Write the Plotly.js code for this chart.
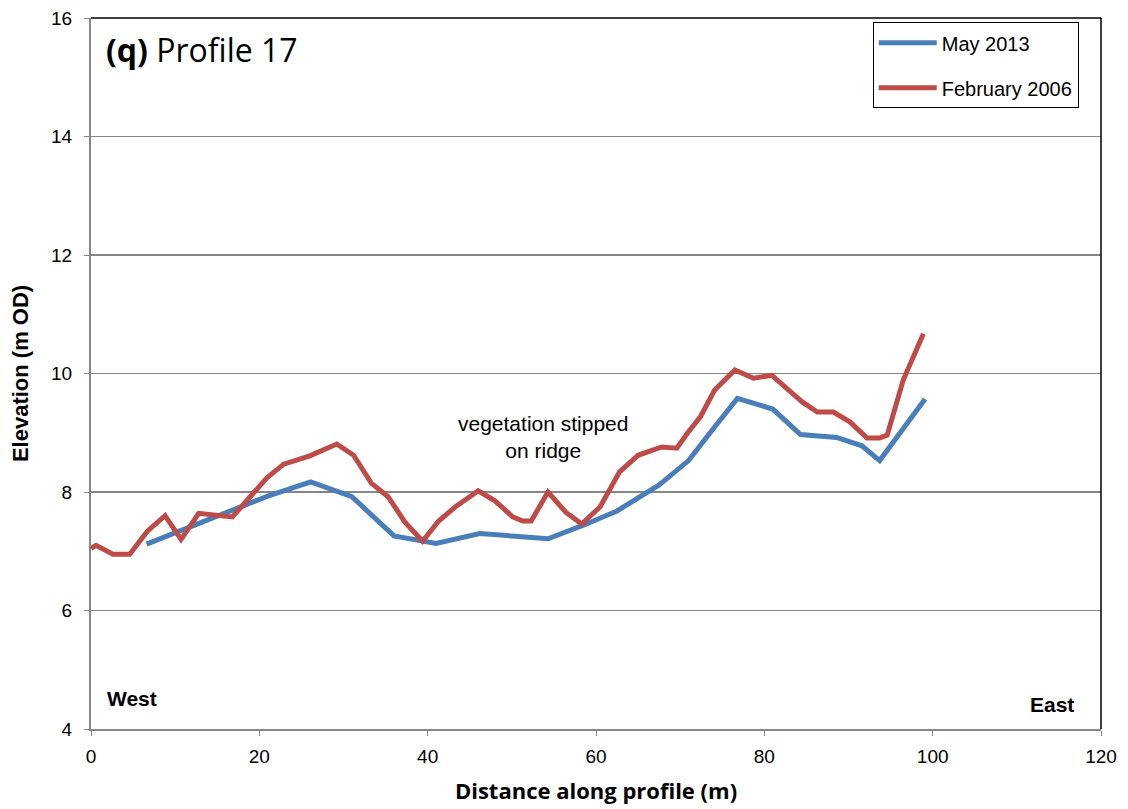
<!DOCTYPE html>
<html>
<head>
<meta charset="utf-8">
<script src="https://cdn.plot.ly/plotly-3.0.1.min.js"></script>
<style>html,body{margin:0;padding:0;background:#fff;}#chart{width:1128px;height:809px;}</style>
</head>
<body>
<div id="chart"></div>
<script>
// Distance along profile (m) and elevation (m OD)
const may2013X = [6.6, 12.5, 18, 21, 26.1, 31, 36, 41, 46.2, 54.3, 58.5, 62.5, 67.5, 71, 74, 76.8, 81, 84.3, 88.6, 91.6, 93.7, 99.1];
const may2013Y = [7.12, 7.45, 7.78, 7.93, 8.17, 7.92, 7.26, 7.13, 7.30, 7.21, 7.44, 7.68, 8.12, 8.53, 9.08, 9.58, 9.40, 8.97, 8.92, 8.78, 8.53, 9.57];

const feb2006X = [0, 0.6, 2.6, 4.6, 6.7, 8.8, 10.7, 12.8, 16.8, 18.9, 20.9, 22.9, 26.0, 29.2, 31.2, 33.3, 35.3, 37.3, 39.4, 41.3, 43.3, 45.3, 46.0, 48.0, 50.1, 51.3, 52.3, 54.3, 56.4, 58.3, 60.5, 62.8, 65.0, 67.8, 69.6, 70.9, 72.4, 74.1, 76.5, 78.7, 80.9, 83.3, 84.5, 86.3, 88.2, 90.2, 92.2, 93.7, 94.6, 96.5, 98.9];
const feb2006Y = [7.05, 7.10, 6.95, 6.95, 7.34, 7.60, 7.20, 7.64, 7.58, 7.92, 8.24, 8.47, 8.61, 8.81, 8.62, 8.15, 7.92, 7.49, 7.17, 7.51, 7.75, 7.95, 8.02, 7.85, 7.58, 7.51, 7.51, 8.00, 7.66, 7.46, 7.75, 8.34, 8.62, 8.76, 8.74, 9.00, 9.27, 9.72, 10.06, 9.92, 9.97, 9.67, 9.52, 9.35, 9.35, 9.18, 8.91, 8.91, 8.96, 9.89, 10.67];

const xTicks = [0, 20, 40, 60, 80, 100, 120];
const yTicks = [4, 6, 8, 10, 12, 14, 16];

const traces = [
  {x: may2013X, y: may2013Y, name: 'May 2013', type: 'scatter', mode: 'lines', legendgroup: 'a',
   line: {color: '#4a7ebb', width: 5}},
  {x: feb2006X, y: feb2006Y, name: 'February 2006', type: 'scatter', mode: 'lines', legendgroup: 'b',
   line: {color: '#be4b48', width: 5}}
];

const layout = {
  width: 1128, height: 809,
  margin: {l: 91, r: 27, t: 18, b: 80},
  paper_bgcolor: '#ffffff', plot_bgcolor: '#ffffff',
  font: {family: 'Liberation Sans, Arial, sans-serif', color: '#000', size: 20},
  showlegend: true,
  legend: {
    x: 0.774, y: 0.994, xanchor: 'left', yanchor: 'top',
    bordercolor: '#000', borderwidth: 1, bgcolor: '#fff',
    font: {family: 'Liberation Sans, Arial, sans-serif', size: 20, color: '#000'},
    tracegroupgap: 16, itemwidth: 58
  },
  xaxis: {
    range: [0, 120], tickvals: xTicks, ticktext: xTicks.map(String),
    showgrid: false, zeroline: false,
    showline: true, linecolor: '#868686', linewidth: 2,
    ticks: 'outside', ticklen: 5, tickcolor: '#868686', ticklabelstandoff: 4,
    tickfont: {family: 'Liberation Sans, Arial, sans-serif', size: 19},
    title: {text: 'Distance along profile (m)', standoff: 18,
      font: {family: 'Open Sans, sans-serif', size: 22, weight: 'bold'}}
  },
  yaxis: {
    range: [4, 16], tickvals: yTicks, ticktext: yTicks.map(String),
    showgrid: true, gridcolor: '#868686', gridwidth: 1.5, zeroline: false,
    showline: true, linecolor: '#868686', linewidth: 2,
    ticks: 'outside', ticklen: 5, tickcolor: '#868686', ticklabelstandoff: 8,
    tickfont: {family: 'Liberation Sans, Arial, sans-serif', size: 19},
    title: {text: 'Elevation (m OD)', standoff: 16,
      font: {family: 'Liberation Sans, Arial, sans-serif', size: 22, weight: 'bold'}}
  },
  shapes: [
    {type: 'line', xref: 'paper', yref: 'paper', x0: 0, x1: 1, y0: 1, y1: 1, line: {color: '#000', width: 1.5}},
    {type: 'line', xref: 'paper', yref: 'paper', x0: 1, x1: 1, y0: 0, y1: 1, line: {color: '#000', width: 1.5}}
  ],
  annotations: [
    {xref: 'paper', yref: 'paper', x: 0.013, y: 0.956, xanchor: 'left', yanchor: 'middle', showarrow: false,
     text: '<b>(q)</b> Profile 17', font: {family: 'Open Sans, sans-serif', size: 32, color: '#000'}},
    {x: 53.7, y: 8.93, xanchor: 'center', yanchor: 'middle', showarrow: false,
     text: 'vegetation stipped<br>on ridge', font: {family: 'Liberation Sans, Arial, sans-serif', size: 21, color: '#000'}},
    {xref: 'paper', yref: 'paper', x: 0.014, y: 0.043, xanchor: 'left', yanchor: 'middle', showarrow: false,
     text: '<b>West</b>', font: {family: 'Liberation Sans, Arial, sans-serif', size: 21, color: '#000'}},
    {xref: 'paper', yref: 'paper', x: 0.975, y: 0.035, xanchor: 'right', yanchor: 'middle', showarrow: false,
     text: '<b>East</b>', font: {family: 'Liberation Sans, Arial, sans-serif', size: 21, color: '#000'}}
  ]
};

Plotly.newPlot('chart', traces, layout, {displayModeBar: false, staticPlot: true});
</script>
</body>
</html>
